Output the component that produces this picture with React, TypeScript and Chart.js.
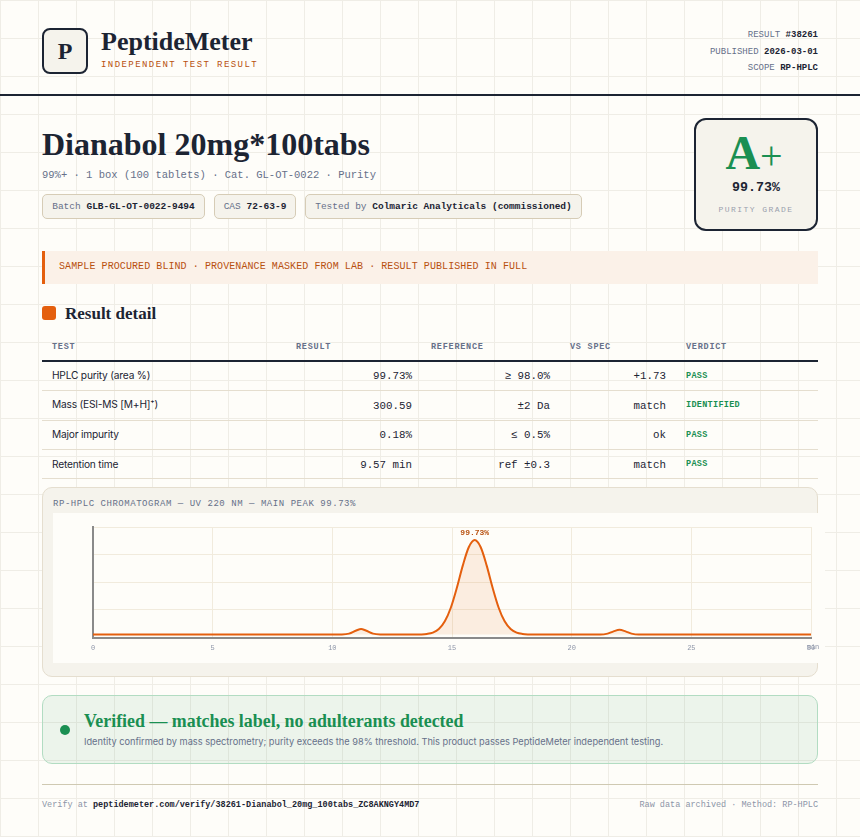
import React, { useEffect, useRef } from 'react';
import { Chart, registerables } from 'chart.js';

Chart.register(...registerables);

// retention time (min) and UV response
const traceTimes = [0, 5, 10, 10.4, 10.7, 11, 11.2, 11.4, 11.7, 12, 12.4, 13.45, 13.7, 13.95, 14.2, 14.45, 14.7, 14.95, 15.2, 15.45, 15.7, 15.95, 16.2, 16.45, 16.7, 16.95, 17.2, 17.45, 17.7, 17.95, 18.2, 18.45, 20, 21.2, 21.5, 21.75, 22, 22.25, 22.5, 22.8, 25, 30];
const traceValues = [2.7, 2.7, 2.7, 2.8, 3.6, 6.4, 7.8, 6.4, 3.6, 2.8, 2.7, 2.7, 2.85, 3.3, 4.5, 7.7, 14.7, 27, 44.8, 65.1, 81.7, 88.2, 81.7, 65.1, 44.8, 27, 14.7, 7.7, 4.5, 3.3, 2.85, 2.7, 2.7, 2.7, 3.6, 5.6, 7, 5.6, 3.6, 2.7, 2.7, 2.7];
const xTicks = [0, 5, 10, 15, 20, 25, 30];
const yTicks = [0, 25, 50, 75, 100];
const peakLabel = '99.73%';
const peakTime = 15.95;
const peakValue = 88.2;

const tableHead = ['TEST', 'RESULT', 'REFERENCE', 'VS SPEC', 'VERDICT'];
const tests = ['HPLC purity (area %)', 'Mass (ESI-MS [M+H]⁺)', 'Major impurity', 'Retention time'];
const results = ['99.73%', '300.59', '0.18%', '9.57 min'];
const references = ['≥ 98.0%', '±2 Da', '≤ 0.5%', 'ref ±0.3'];
const vsSpec = ['+1.73', 'match', 'ok', 'match'];
const verdicts = ['PASS', 'IDENTIFIED', 'PASS', 'PASS'];

const SERIF = '"Liberation Serif", serif';
const MONO = '"Liberation Mono", monospace';
const SANS = 'Inter, sans-serif';
const INK = '#1c2433';
const MUTED = '#667089';
const ORANGE = '#e45f0e';
const RUST = '#b8500f';
const GREEN = '#1a8f52';

const at = (left: number, top: number, extra: React.CSSProperties = {}): React.CSSProperties => ({
  position: 'absolute',
  left,
  top,
  whiteSpace: 'nowrap',
  ...extra,
});

const Chromatogram: React.FC = () => {
  const chartRef = useRef<HTMLCanvasElement>(null);

  useEffect(() => {
    if (!chartRef.current) return;

    // draws the peak label and the "min" unit that sits on top of the last tick
    const annotations = {
      id: 'annotations',
      afterDatasetsDraw(chart: Chart) {
        const { ctx, scales } = chart;
        ctx.save();
        ctx.textAlign = 'center';
        ctx.textBaseline = 'middle';
        ctx.font = 'bold 8px "Liberation Mono", monospace';
        ctx.fillStyle = RUST;
        ctx.fillText(peakLabel, scales.x.getPixelForValue(peakTime), scales.y.getPixelForValue(peakValue) - 7);
        ctx.font = '7px "Liberation Mono", monospace';
        ctx.fillStyle = '#8d95a8';
        ctx.fillText('min', scales.x.getPixelForValue(30) + 2, scales.y.getPixelForValue(0) + 10);
        ctx.restore();
      },
    };

    const chart = new Chart(chartRef.current, {
      type: 'line',
      data: {
        datasets: [
          {
            data: traceTimes.map((t, i) => ({ x: t, y: traceValues[i] })),
            borderColor: ORANGE,
            backgroundColor: 'rgba(228, 95, 14, 0.1)',
            borderWidth: 2,
            pointRadius: 0,
            cubicInterpolationMode: 'monotone',
            fill: { value: 2.7 },
          },
        ],
      },
      options: {
        animation: false,
        responsive: false,
        layout: { padding: { left: 40, right: 14, top: 14, bottom: 5 } },
        plugins: { legend: { display: false }, tooltip: { enabled: false } },
        scales: {
          x: {
            type: 'linear',
            min: 0,
            max: 30,
            afterBuildTicks: (axis) => {
              axis.ticks = xTicks.map((value) => ({ value }));
            },
            grid: { color: '#f1ebdd', lineWidth: 1, drawTicks: false },
            border: { display: true, color: '#8a8a8a', width: 2 },
            ticks: {
              color: '#8d95a8',
              font: { family: '"Liberation Mono", monospace', size: 7 },
              padding: 6,
              maxRotation: 0,
              autoSkip: false,
            },
          },
          y: {
            min: 0,
            max: 100,
            afterBuildTicks: (axis) => {
              axis.ticks = yTicks.map((value) => ({ value }));
            },
            grid: { color: '#f1ebdd', lineWidth: 1, drawTicks: false },
            border: { display: true, color: '#8a8a8a', width: 2 },
            ticks: { display: false },
          },
        },
      },
      plugins: [annotations],
    });

    return () => {
      chart.destroy();
    };
  }, []);

  return <canvas ref={chartRef} width={772} height={150} style={{ display: 'block', width: 772, height: 150 }} />;
};

const Pill: React.FC<{ left: number; width: number; label: string; value: string }> = ({ left, width, label, value }) => (
  <div
    style={at(left, 194, {
      width,
      height: 25,
      boxSizing: 'border-box',
      background: '#f5f3ec',
      border: '1px solid #d6ccb6',
      borderRadius: 5,
      fontFamily: MONO,
      fontSize: 9.5,
      lineHeight: '23px',
      textAlign: 'center',
      color: MUTED,
    })}
  >
    {label} <b style={{ color: INK }}>{value}</b>
  </div>
);

const columnRight = [412, 550, 666];
const testTops = [368, 397, 427, 457];
const valueTops = [369, 399, 428, 458];
const verdictTops = [371, 400, 430, 459];
const rowLines = [390, 420, 449, 478];

const App: React.FC = () => {
  const meta = [
    ['RESULT', '#38261', 29],
    ['PUBLISHED', '2026-03-01', 46],
    ['SCOPE', 'RP-HPLC', 62],
  ] as const;

  return (
    <div
      style={{
        position: 'absolute',
        left: 0,
        top: 0,
        width: 860,
        height: 837,
        overflow: 'hidden',
        color: INK,
        backgroundColor: '#fefdf9',
        backgroundImage:
          'linear-gradient(#efede6 1px, transparent 1px), linear-gradient(90deg, #efede6 1px, transparent 1px)',
        backgroundSize: '38px 38px',
      }}
    >
      {/* header */}
      <div
        style={at(42, 28, {
          width: 46,
          height: 46,
          boxSizing: 'border-box',
          background: '#f5f3ec',
          border: `2px solid ${INK}`,
          borderRadius: 8,
          fontFamily: SERIF,
          fontWeight: 700,
          fontSize: 24,
          lineHeight: '42px',
          textAlign: 'center',
        })}
      >
        P
      </div>
      <div style={at(101, 27, { fontFamily: SERIF, fontWeight: 700, fontSize: 26, lineHeight: '30px' })}>PeptideMeter</div>
      <div style={at(101, 59, { fontFamily: MONO, fontSize: 9, lineHeight: '12px', letterSpacing: 1.43, color: RUST })}>INDEPENDENT TEST RESULT</div>
      {meta.map(([label, value, top]) => (
        <div key={label} style={at(0, top, { width: 818, textAlign: 'right', fontFamily: MONO, fontSize: 9, lineHeight: '12px', color: MUTED })}>
          {label} <b style={{ color: INK }}>{value}</b>
        </div>
      ))}
      <div style={at(0, 94, { width: 860, height: 2, background: INK })} />

      {/* product */}
      <div style={at(42, 126, { fontFamily: SERIF, fontWeight: 700, fontSize: 32, lineHeight: '36px' })}>Dianabol 20mg*100tabs</div>
      <div style={at(42, 168, { fontFamily: MONO, fontSize: 10.5, lineHeight: '14px', color: MUTED })}>99%+ · 1 box (100 tablets) · Cat. GL-OT-0022 · Purity</div>
      <Pill left={42} width={163} label="Batch" value="GLB-GL-OT-0022-9494" />
      <Pill left={214} width={82} label="CAS" value="72-63-9" />
      <Pill left={305} width={277} label="Tested by" value="Colmaric Analyticals (commissioned)" />

      {/* grade */}
      <div
        style={at(694, 118, {
          width: 124,
          height: 113,
          boxSizing: 'border-box',
          background: '#f5f3ec',
          border: `2px solid ${INK}`,
          borderRadius: 12,
        })}
      />
      <div style={at(692, 128, { width: 124, textAlign: 'center', fontFamily: SERIF, fontWeight: 700, fontSize: 48, lineHeight: '50px', color: GREEN })}>
        A<span style={{ fontWeight: 400, fontSize: 40 }}>+</span>
      </div>
      <div style={at(694, 180, { width: 124, textAlign: 'center', fontFamily: MONO, fontWeight: 700, fontSize: 13.3, lineHeight: '15px' })}>99.73%</div>
      <div style={at(694, 204, { width: 124, textAlign: 'center', fontFamily: MONO, fontSize: 8, lineHeight: '11px', letterSpacing: 1.45, color: '#9aa0ad' })}>PURITY GRADE</div>

      {/* notice */}
      <div style={at(42, 251, { width: 776, height: 33, boxSizing: 'border-box', background: '#fbf1e8', borderLeft: `3px solid ${ORANGE}` })} />
      <div style={at(59, 260, { fontFamily: MONO, fontSize: 10, lineHeight: '14px', letterSpacing: 0.08, color: RUST })}>SAMPLE PROCURED BLIND · PROVENANCE MASKED FROM LAB · RESULT PUBLISHED IN FULL</div>

      {/* table */}
      <div style={at(42, 306, { width: 14, height: 14, background: ORANGE, borderRadius: 3 })} />
      <div style={at(65, 304, { fontFamily: SERIF, fontWeight: 700, fontSize: 17, lineHeight: '20px' })}>Result detail</div>
      {tableHead.map((head, i) => (
        <div key={head} style={at([52, 296, 431, 570, 686][i], 342, { fontFamily: MONO, fontWeight: 700, fontSize: 8.5, lineHeight: '11px', letterSpacing: 0.75, color: MUTED })}>
          {head}
        </div>
      ))}
      <div style={at(42, 360, { width: 776, height: 2, background: INK })} />
      {tests.map((test, i) => (
        <React.Fragment key={test}>
          <div style={at(52, testTops[i], { fontFamily: SANS, fontSize: 10.2, lineHeight: '14px', letterSpacing: -0.2 })}>{test}</div>
          {[results, references, vsSpec].map((column, c) => (
            <div key={c} style={at(0, valueTops[i], { width: columnRight[c], textAlign: 'right', fontFamily: MONO, fontSize: 10.8, lineHeight: '14px' })}>
              {column[i]}
            </div>
          ))}
          <div style={at(686, verdictTops[i], { fontFamily: MONO, fontWeight: 700, fontSize: 8.5, lineHeight: '11px', color: GREEN, letterSpacing: 0.3 })}>{verdicts[i]}</div>
          <div style={at(42, rowLines[i], { width: 776, height: 1, background: '#e5decf' })} />
        </React.Fragment>
      ))}

      {/* chromatogram panel */}
      <div style={at(42, 487, { width: 776, height: 190, boxSizing: 'border-box', background: '#f5f3ec', border: '1px solid #e5decf', borderRadius: 10 })} />
      <div style={at(53, 498, { fontFamily: MONO, fontSize: 9, lineHeight: '12px', letterSpacing: 0.54, color: MUTED })}>RP-HPLC CHROMATOGRAM — UV 220 NM — MAIN PEAK 99.73%</div>
      <div style={at(53, 513, { width: 772, height: 150, background: '#fefdf9' })}>
        <Chromatogram />
      </div>

      {/* verdict */}
      <div style={at(42, 695, { width: 776, height: 69, boxSizing: 'border-box', background: 'rgba(26, 143, 82, 0.08)', border: '1px solid #b2dcc2', borderRadius: 10 })} />
      <div style={at(60, 725, { width: 10, height: 10, borderRadius: '50%', background: GREEN })} />
      <div style={at(84, 710, { fontFamily: SERIF, fontWeight: 700, fontSize: 17.9, lineHeight: '22px', color: GREEN })}>Verified — matches label, no adulterants detected</div>
      <div style={at(84, 735, { fontFamily: SANS, fontSize: 9.23, lineHeight: '14px', color: MUTED })}>Identity confirmed by mass spectrometry; purity exceeds the 98% threshold. This product passes PeptideMeter independent testing.</div>

      {/* footer */}
      <div style={at(42, 784, { width: 776, height: 1, background: '#cfc9b2' })} />
      <div style={at(42, 799, { fontFamily: MONO, fontSize: 8.5, lineHeight: '12px', color: '#8d95a8' })}>
        Verify at <b style={{ color: INK }}>peptidemeter.com/verify/38261-Dianabol_20mg_100tabs_ZC8AKNGY4MD7</b>
      </div>
      <div style={at(0, 799, { width: 818, textAlign: 'right', fontFamily: MONO, fontSize: 8.5, lineHeight: '12px', color: '#8d95a8' })}>Raw data archived · Method: RP-HPLC</div>
    </div>
  );
};

export default App;
